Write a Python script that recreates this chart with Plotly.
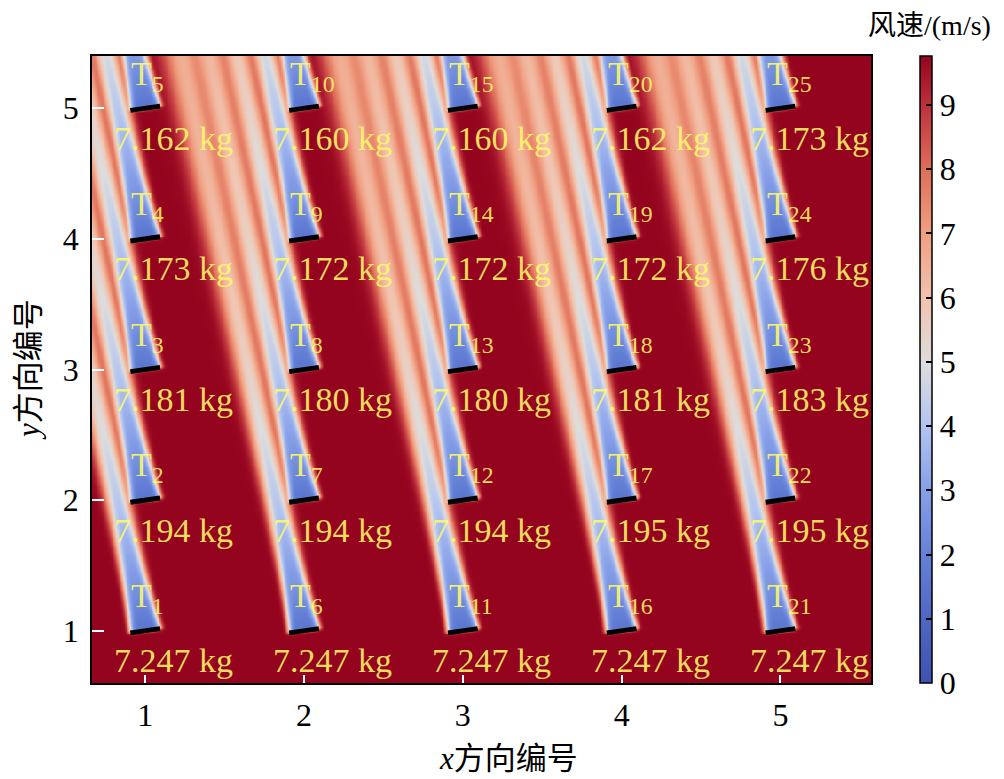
import numpy as np
import plotly.graph_objects as go

# ---------------- data ----------------
turbine_id = list(range(1, 26))
turbine_x = [1]*5 + [2]*5 + [3]*5 + [4]*5 + [5]*5
turbine_y = [1, 2, 3, 4, 5] * 5
mass_kg = [7.247, 7.194, 7.181, 7.173, 7.162,
           7.247, 7.194, 7.180, 7.172, 7.160,
           7.247, 7.194, 7.180, 7.172, 7.160,
           7.247, 7.195, 7.181, 7.172, 7.162,
           7.247, 7.195, 7.183, 7.176, 7.173]
x_ticks = [1, 2, 3, 4, 5]
y_ticks = [1, 2, 3, 4, 5]
cbar_ticks = [0, 1, 2, 3, 4, 5, 6, 7, 8, 9]

free_stream = 9.76        # m/s, top of colour bar
wind_angle_deg = 10.0     # wake leans left of +y
rotor_half = 0.095        # half rotor length (grid units)

# ---------------- wake field ----------------
X_RANGE = [0.665, 5.57]
Y_RANGE = [0.6, 5.4]
gx = np.linspace(X_RANGE[0], X_RANGE[1], 440)
gy = np.linspace(Y_RANGE[0], Y_RANGE[1], 350)
XX, YY = np.meshgrid(gx, gy)

th = np.deg2rad(wind_angle_deg)
ex, ey = -np.sin(th), np.cos(th)    # downstream
nx_, ny_ = np.cos(th), np.sin(th)   # across rotor

sq = np.zeros_like(XX)
for xt, yt in zip(turbine_x, turbine_y):
    dx = XX - xt
    dy = YY - yt
    s = dx * ex + dy * ey
    r = dx * nx_ + dy * ny_
    sp = np.clip(s, 0, None)
    near = np.exp(-sp / 0.5)
    sigma = 0.042 + 0.05 * near + 0.008 * sp
    p = 2.0 + 4.0 * near
    C = 0.30 + 0.55 * np.exp(-sp / 1.5)
    onset = 1.0 / (1.0 + np.exp(-s / 0.006))
    d = C * np.exp(-0.5 * np.abs(r / sigma) ** p) * onset
    sq += d ** 2
U = free_stream * (1.0 - np.sqrt(sq))
U = np.clip(U, 0, free_stream)
U = np.round(U, 2)

cs = [
    [0.00, "rgb(62,82,178)"],
    [0.10, "rgb(78,102,196)"],
    [0.20, "rgb(100,128,214)"],
    [0.31, "rgb(135,160,232)"],
    [0.41, "rgb(178,196,240)"],
    [0.51, "rgb(221,221,221)"],
    [0.61, "rgb(241,196,176)"],
    [0.72, "rgb(240,158,128)"],
    [0.82, "rgb(222,110,90)"],
    [0.92, "rgb(190,50,60)"],
    [1.00, "rgb(148,4,30)"],
]

SERIF = "Liberation Serif, Times New Roman, Noto Sans CJK SC, serif"

# page body adds an 8 px offset; figure is sized so the plot lands where the reference has it
OFF = 8
PL, PT, PW, PH = 92 - OFF, 56 - OFF, 779, 627
FIG_W, FIG_H = 996, 771

fig = go.Figure()
fig.add_trace(go.Heatmap(
    x=gx, y=gy, z=U, zmin=0, zmax=free_stream, colorscale=cs,
    zsmooth="best", hoverinfo="skip",
    colorbar=dict(
        x=(920 - 92) / PW, xanchor="left", xpad=0, ypad=0,
        y=0.5, yanchor="middle", len=1, lenmode="fraction",
        thickness=12, outlinecolor="black", outlinewidth=1.5,
        tickvals=cbar_ticks, ticks="inside", ticklen=6, tickcolor="black",
        tickwidth=1.5, tickprefix="\u2009",
        tickfont=dict(family=SERIF, size=32, color="black"),
    ),
))

# rotor lines
rx, ry = [], []
for xt, yt in zip(turbine_x, turbine_y):
    rx += [xt - rotor_half * nx_, xt + rotor_half * nx_, None]
    ry += [yt - rotor_half * ny_, yt + rotor_half * ny_, None]
fig.add_trace(go.Scatter(x=rx, y=ry, mode="lines",
                         line=dict(color="black", width=5),
                         hoverinfo="skip", showlegend=False))

ann = []
txtcol = "rgba(255,250,105,0.88)"
for tid, xt, yt, m in zip(turbine_id, turbine_x, turbine_y, mass_kg):
    ann.append(dict(x=xt - 0.1, y=yt + 0.25, xref="x", yref="y",
                    text=f"T<sub>{tid}</sub>", showarrow=False,
                    xanchor="left", yanchor="middle",
                    font=dict(family=SERIF, size=34, color=txtcol)))
    ann.append(dict(x=xt + 0.18, y=yt - 0.23, xref="x", yref="y",
                    text=f"{m:.3f} kg", showarrow=False,
                    xanchor="center", yanchor="middle",
                    font=dict(family=SERIF, size=34, color=txtcol)))

ann.append(dict(x=(929 - 92) / PW, y=(683 - 8) / PH, xref="paper", yref="paper",
                text="风速/(m/s)", showarrow=False, xanchor="center", yanchor="top",
                font=dict(family=SERIF, size=28, color="black")))
ann.append(dict(x=(508 - 92) / PW, y=(683 - 758) / PH, xref="paper", yref="paper",
                text="<i>x</i>方向编号", showarrow=False, xanchor="center", yanchor="middle",
                font=dict(family=SERIF, size=31, color="black")))
ann.append(dict(x=(28 - 92) / PW, y=(683 - 370) / PH, xref="paper", yref="paper",
                text="<i>y</i>方向编号", showarrow=False, xanchor="center", yanchor="middle",
                textangle=-90,
                font=dict(family=SERIF, size=31, color="black")))

fig.update_layout(
    width=FIG_W, height=FIG_H,
    margin=dict(l=PL, r=FIG_W - PL - PW, t=PT, b=FIG_H - PT - PH, autoexpand=False),
    paper_bgcolor="white", plot_bgcolor="white",
    showlegend=False,
    annotations=ann,
    xaxis=dict(range=X_RANGE, tickvals=x_ticks, ticks="inside", ticklen=8,
               tickwidth=1.5, tickcolor="white", showline=True, linecolor="black",
               linewidth=1.5, mirror=True, showgrid=False, zeroline=False,
               ticklabelstandoff=3,
               tickfont=dict(family=SERIF, size=32, color="black")),
    yaxis=dict(range=Y_RANGE, tickvals=y_ticks, ticks="inside", ticklen=12,
               tickwidth=1.5, tickcolor="white", showline=True, linecolor="black",
               linewidth=1.5, mirror=True, showgrid=False, zeroline=False,
               ticklabelstandoff=5,
               tickfont=dict(family=SERIF, size=32, color="black")),
)

fig.write_html("out.html")
